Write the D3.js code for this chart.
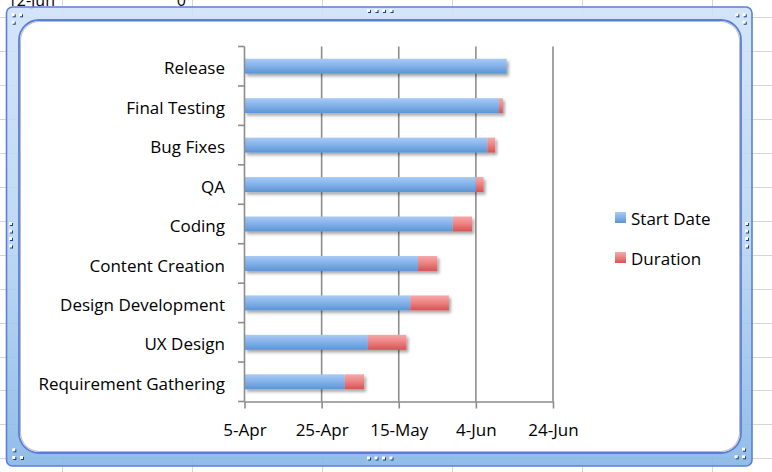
<!DOCTYPE html>
<html><head><meta charset="utf-8">
<script src="https://cdn.jsdelivr.net/npm/d3@7"></script>
<style>html,body{margin:0;padding:0;background:#fff;}svg{display:block;}</style>
</head><body>
<svg id="c" width="772" height="472"></svg>
<script>
// ---- data ----
const categories = ["Release","Final Testing","Bug Fixes","QA","Coding","Content Creation","Design Development","UX Design","Requirement Gathering"];
const startDates = ["2011-06-12","2011-06-10","2011-06-07","2011-06-04","2011-05-29","2011-05-20","2011-05-18","2011-05-07","2011-05-01"];
const durations = [0,1,2,2,5,5,10,10,5];
const seriesNames = ["Start Date","Duration"];
const tickLabels = ["2011-04-05","2011-04-25","2011-05-15","2011-06-04","2011-06-24"];
const cellTexts = [["12-Jun",55],["0",186]];

const parse = d3.timeParse("%Y-%m-%d");
const rows = categories.map((c,i)=>({cat:c,start:parse(startDates[i]),dur:durations[i]}));
const ticks = tickLabels.map(parse);

const svg = d3.select("#c");
const FONT = "'Open Sans', Lato, sans-serif";
const defs = svg.append("defs");

function grad(id, stops){
  const g = defs.append("linearGradient").attr("id",id).attr("x1",0).attr("y1",0).attr("x2",0).attr("y2",1);
  stops.forEach(s=>g.append("stop").attr("offset",s[0]).attr("stop-color",s[1]).attr("stop-opacity",s[2]==null?1:s[2]));
}
grad("gBlue",[[0,"#a8cbf5"],[0.45,"#86b3ea"],[1,"#5a95d6"]]);
grad("gRed",[[0,"#f6a8a8"],[0.45,"#ee8585"],[1,"#d85252"]]);
grad("gFrame",[[0,"#cfe2f8",0.9],[0.5,"#b4d2f2",0.85],[1,"#86b6e6",0.9]]);
const f = defs.append("filter").attr("id","sh").attr("x","-10%").attr("y","-50%").attr("width","130%").attr("height","220%");
f.append("feDropShadow").attr("dx",2).attr("dy",2.5).attr("stdDeviation",1.6).attr("flood-color","#000").attr("flood-opacity",0.35);

// spreadsheet grid
const gridG = svg.append("g");
d3.range(17,472,33.95).forEach(y=>gridG.append("line").attr("x1",0).attr("x2",772).attr("y1",Math.round(y)+0.5).attr("y2",Math.round(y)+0.5).attr("stroke","#d6d6d6"));
d3.range(62,772,130).forEach(x=>gridG.append("line").attr("x1",x+0.5).attr("x2",x+0.5).attr("y1",0).attr("y2",472).attr("stroke","#d6d6d6"));
cellTexts.forEach(t=>svg.append("text").attr("x",t[1]).attr("y",6).attr("text-anchor","end").attr("font-family",FONT).attr("font-size",16).attr("fill","#000").text(t[0]));

// frame
svg.append("rect").attr("x",6.5).attr("y",7).attr("width",745.5).attr("height",459).attr("rx",6)
  .attr("fill","url(#gFrame)").attr("stroke","#5b7fd8").attr("stroke-width",1.6);
svg.append("rect").attr("x",19).attr("y",20).attr("width",722).attr("height",433).attr("rx",20)
  .attr("fill","#fff").attr("stroke","#5a7ed8").attr("stroke-width",1.8);
svg.append("rect").attr("x",20.5).attr("y",21.5).attr("width",719).attr("height",430).attr("rx",19)
  .attr("fill","none").attr("stroke","#a8a8a8").attr("stroke-width",0.8);

// handles
function handle(x,y){
  svg.append("rect").attr("x",x+1).attr("y",y+1).attr("width",3).attr("height",3).attr("fill","#1c3c6e");
  svg.append("rect").attr("x",x).attr("y",y).attr("width",3).attr("height",3).attr("fill","#fff");
}
[[11.7,13.3],[19,13.3],[11.7,20.7],[735.3,13.3],[742.7,13.3],[742.7,20.7],[12.3,448.3],[12.3,456],[20,456],[742,447.7],[734.7,455.3],[742,455.3]].forEach(p=>handle(p[0],p[1]));
[367,374.5,382,389.5].forEach(x=>{handle(x,9);handle(x,456.5);});
[222,229.5,237,244.5].forEach(y=>{handle(9,y);handle(745,y);});

// scales
const x = d3.scaleTime().domain([ticks[0],ticks[ticks.length-1]]).range([244.5,553]);
const y = d3.scaleBand().domain(categories).range([46.5,401.5]).paddingInner(0.62).paddingOuter(0.31);

// gridlines
const plot = svg.append("g");
ticks.slice(1).forEach(t=>plot.append("line").attr("x1",x(t)).attr("x2",x(t)).attr("y1",46.5).attr("y2",401.5).attr("stroke","#8c8c8c").attr("stroke-width",1.6));

// bars
const bars = plot.append("g").attr("filter","url(#sh)");
const bg = bars.selectAll("g").data(rows).join("g");
bg.append("rect").attr("x",x(ticks[0])).attr("y",d=>y(d.cat)).attr("height",y.bandwidth())
  .attr("width",d=>x(d.start)-x(ticks[0])).attr("fill","url(#gBlue)");
bg.filter(d=>d.dur>0).append("rect").attr("x",d=>x(d.start)).attr("y",d=>y(d.cat)).attr("height",y.bandwidth())
  .attr("width",d=>x(d3.timeDay.offset(d.start,d.dur))-x(d.start)).attr("fill","url(#gRed)");

// y axis
const yAx = svg.append("g");
yAx.append("line").attr("x1",244.5).attr("x2",244.5).attr("y1",46.5).attr("y2",401.5).attr("stroke","#8c8c8c").attr("stroke-width",1.6);
const bounds = categories.map(c=>y(c)+y.bandwidth()/2-y.step()/2).concat([y(categories[categories.length-1])+y.bandwidth()/2+y.step()/2]);
bounds.forEach(b=>yAx.append("line").attr("x1",238).attr("x2",244.5).attr("y1",b).attr("y2",b).attr("stroke","#8c8c8c").attr("stroke-width",1.6));

// font sizing to match label width
const probe = svg.append("text").attr("font-family",FONT).attr("font-size",16).text(categories[categories.length-1]);
const w = probe.node().getComputedTextLength(); probe.remove();
const FS = Math.max(14, Math.min(17, 16*190/w));

yAx.selectAll("text.cat").data(categories).join("text").attr("class","cat")
  .attr("x",225).attr("y",d=>y(d)+y.bandwidth()/2+2).attr("dy","0.36em").attr("text-anchor","end")
  .attr("font-family",FONT).attr("font-size",FS).attr("fill","#000").text(d=>d);

// x axis
const xAx = svg.append("g").attr("transform","translate(0,401.5)")
  .call(d3.axisBottom(x).tickValues(ticks).tickFormat(d3.timeFormat("%-d-%b")).tickSize(7).tickSizeOuter(0));
xAx.select(".domain").attr("stroke","#8c8c8c").attr("stroke-width",1.6);
xAx.selectAll(".tick line").attr("stroke","#8c8c8c").attr("stroke-width",1.6);
xAx.selectAll(".tick text").attr("font-family",FONT).attr("font-size",FS).attr("fill","#000").attr("y",22).attr("dy","0.71em");

// legend
const leg = svg.append("g");
const legendFills = ["url(#gBlue)","url(#gRed)"];
seriesNames.forEach((n,i)=>{
  leg.append("rect").attr("x",615).attr("y",212+i*40).attr("width",11).attr("height",11).attr("fill",legendFills[i]);
  leg.append("text").attr("x",631).attr("y",219+i*40).attr("dy","0.36em").attr("font-family",FONT).attr("font-size",FS).attr("fill","#000").text(n);
});
</script>
</body></html>
